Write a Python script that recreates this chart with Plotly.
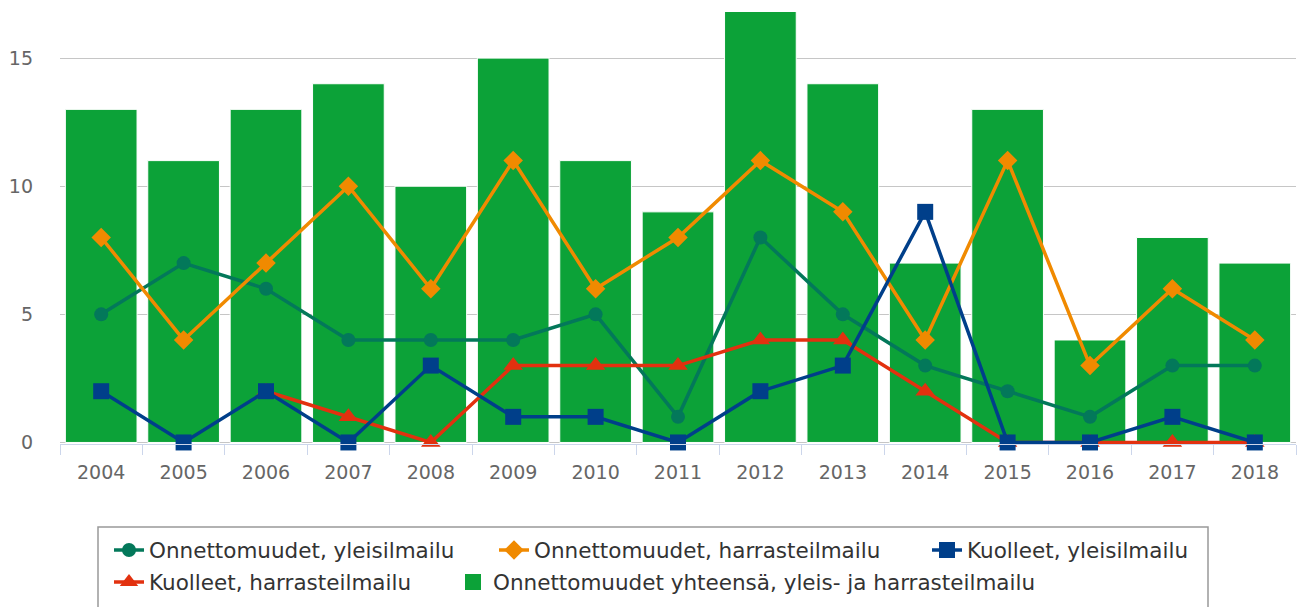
import plotly.graph_objects as go

years = ["2004", "2005", "2006", "2007", "2008", "2009", "2010", "2011",
         "2012", "2013", "2014", "2015", "2016", "2017", "2018"]
total = [13, 11, 13, 14, 10, 15, 11, 9, 17, 14, 7, 13, 4, 8, 7]
onn_yleis = [5, 7, 6, 4, 4, 4, 5, 1, 8, 5, 3, 2, 1, 3, 3]
onn_harr = [8, 4, 7, 10, 6, 11, 6, 8, 11, 9, 4, 11, 3, 6, 4]
kuol_yleis = [2, 0, 2, 0, 3, 1, 1, 0, 2, 3, 9, 0, 0, 1, 0]
kuol_harr = [None, None, 2, 1, 0, 3, 3, 3, 4, 4, 2, 0, 0, 0, 0]

names = ["Onnettomuudet, yleisilmailu", "Onnettomuudet, harrasteilmailu",
         "Kuolleet, yleisilmailu", "Kuolleet, harrasteilmailu",
         "Onnettomuudet yhteensä, yleis- ja harrasteilmailu"]

GREEN = "#0ca238"
TEAL = "#03785a"
ORANGE = "#f08a00"
BLUE = "#003f8a"
RED = "#e2310f"

W, H = 1306, 607
FONT = "DejaVu Sans"

fig = go.Figure()

fig.add_trace(go.Bar(x=years, y=total, name=names[4], marker=dict(color=GREEN, line=dict(color="#ffffff", width=1)),
                     showlegend=False, legendgroup="tot"))
fig.add_trace(go.Scatter(x=years, y=onn_yleis, name=names[0], mode="lines+markers", cliponaxis=False,
                         line=dict(color=TEAL, width=3.5), marker=dict(symbol="circle", size=14, color=TEAL),
                         legend="legend"))
fig.add_trace(go.Scatter(x=years, y=onn_harr, name=names[1], mode="lines+markers", cliponaxis=False,
                         line=dict(color=ORANGE, width=3.5), marker=dict(symbol="diamond", size=15, color=ORANGE),
                         legend="legend2"))
fig.add_trace(go.Scatter(x=years, y=kuol_harr, name=names[3], mode="lines+markers", cliponaxis=False,
                         line=dict(color=RED, width=3.5), marker=dict(symbol="triangle-up", size=17, color=RED),
                         legend="legend4"))
fig.add_trace(go.Scatter(x=years, y=kuol_yleis, name=names[2], mode="lines+markers", cliponaxis=False,
                         line=dict(color=BLUE, width=3.5), marker=dict(symbol="square", size=16, color=BLUE),
                         legend="legend3"))
fig.add_trace(go.Scatter(x=[None], y=[None], name=names[4], mode="markers",
                         marker=dict(symbol="square", size=24, color=GREEN),
                         legend="legend5", legendgroup="tot"))

def leg(text_px, y_px):
    return dict(orientation="h", xref="container", yref="container",
                x=(text_px - 41) / W, y=1 - y_px / H, xanchor="left", yanchor="middle",
                bgcolor="rgba(0,0,0,0)", borderwidth=0,
                font=dict(family=FONT, size=21.5, color="#333333"), itemsizing="trace")

L, R, T, B = 60, 10, 12, 163
pw, ph = W - L - R, H - T - B

fig.update_layout(
    width=W, height=H,
    margin=dict(l=L, r=R, t=T, b=B, autoexpand=False),
    paper_bgcolor="white", plot_bgcolor="white",
    bargap=0.13,
    legend=leg(150, 550), legend2=leg(535, 550), legend3=leg(968, 550),
    legend4=leg(150, 582), legend5=leg(494, 582),
    xaxis=dict(type="category", range=[-0.5, 14.5], autorange=False,
               showline=True, linecolor="#ccd6eb", linewidth=1,
               ticks="outside", tickson="boundaries", ticklen=10, tickcolor="#ccd6eb",
               showgrid=False, tickfont=dict(family=FONT, size=19, color="#666666"),
               ticklabelstandoff=11, automargin=False),
    yaxis=dict(range=[-0.06, 16.8], autorange=False, tickvals=[0, 5, 10, 15], showgrid=True, gridcolor="#c6c6c6",
               gridwidth=1, zeroline=False, showline=False, ticks="",
               tickfont=dict(family=FONT, size=19, color="#666666"), ticklabelstandoff=26,
               automargin=False),
    shapes=[dict(type="rect", xref="paper", yref="paper",
                 x0=(98 - L) / pw, x1=(1208 - L) / pw,
                 y0=(H - B - 527) / ph, y1=(H - B - 640) / ph,
                 line=dict(color="#999999", width=1.5), fillcolor="rgba(0,0,0,0)", layer="above")],
)

fig.write_html("out.html", config={"displayModeBar": False},
               post_script="document.body.style.margin='0';")
